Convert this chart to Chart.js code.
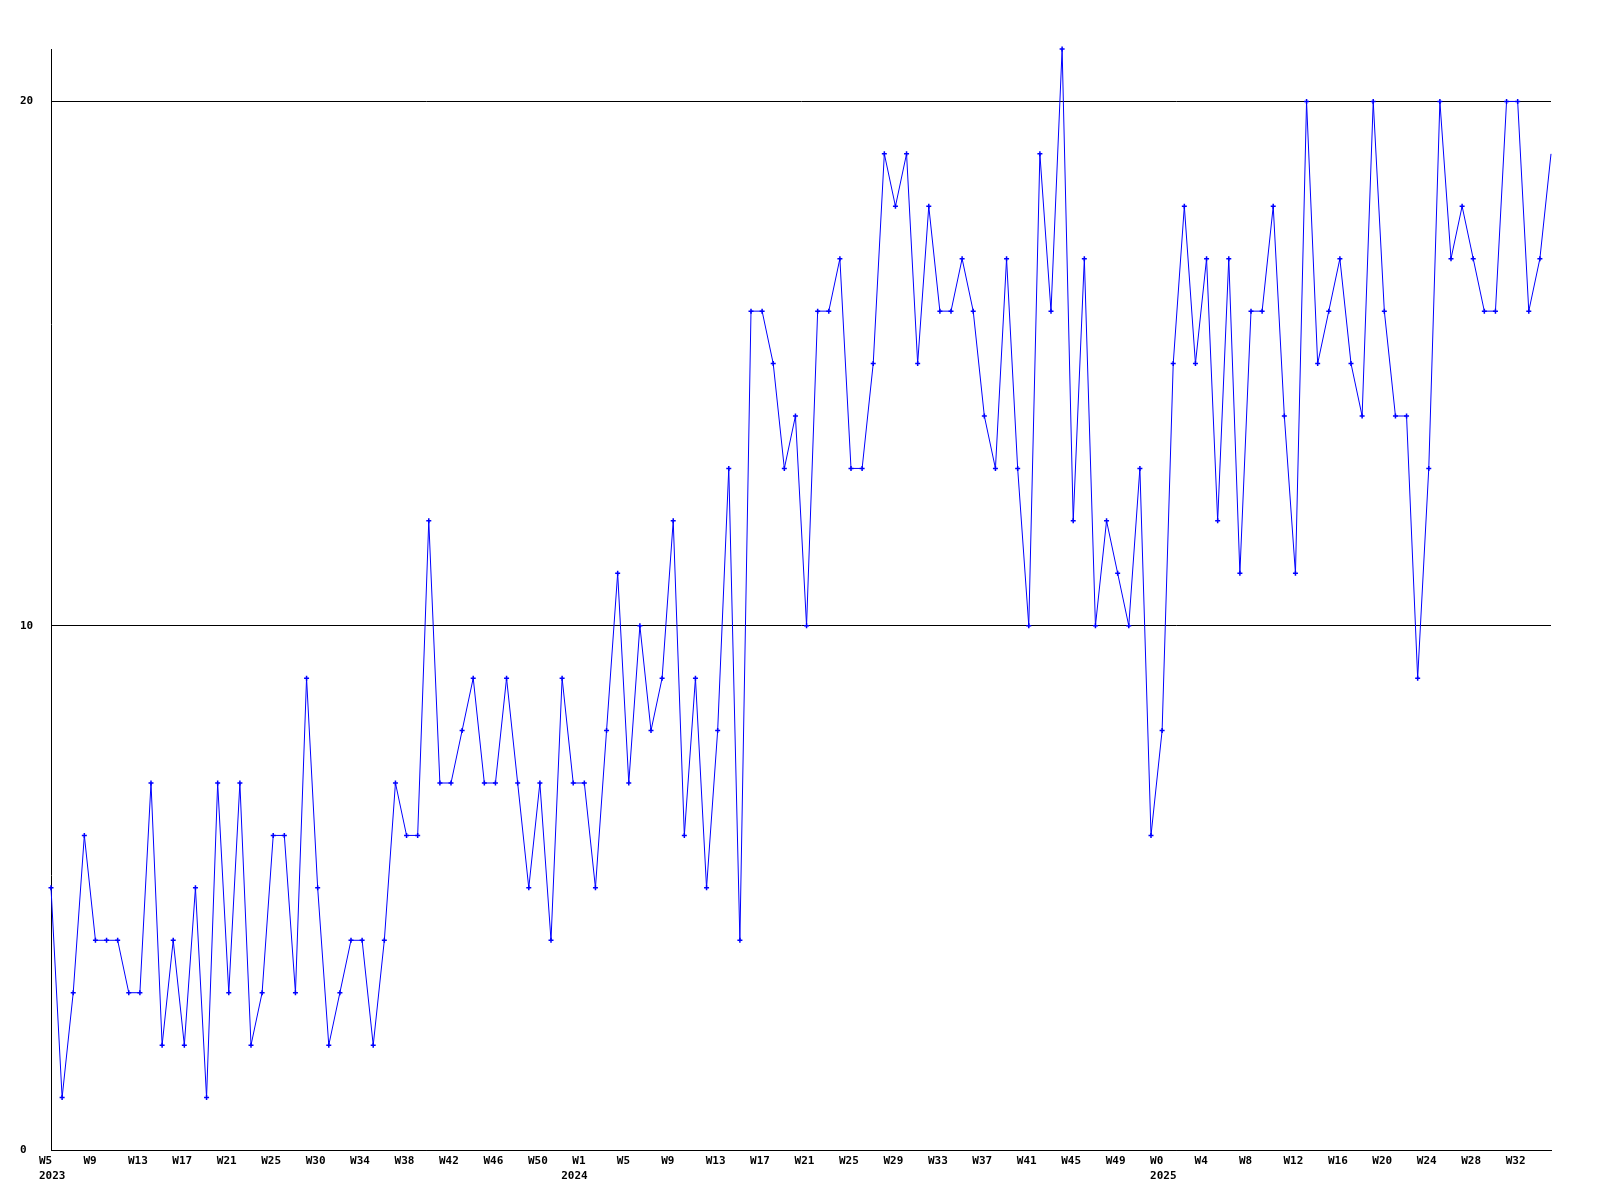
<!DOCTYPE html>
<html>
<head>
<meta charset="utf-8">
<title>Weekly count</title>
<script src="https://cdn.jsdelivr.net/npm/chart.js@4.4.1/dist/chart.umd.min.js"></script>
<style>
  html, body { margin: 0; padding: 0; background: #fff; }
  #wrap { width: 1600px; height: 1200px; }
</style>
</head>
<body>
<div id="wrap"><canvas id="weekChart" width="1600" height="1200"></canvas></div>
<script>
// one value per week, W5 2023 .. W35 2025
const values = [
  5, 1, 3, 6, 4, 4, 4, 3, 3, 7, 2, 4, 2, 5, 1, 7, 3, 7, 2, 3,
  6, 6, 3, 9, 5, 2, 3, 4, 4, 2, 4, 7, 6, 6, 12, 7, 7, 8, 9, 7,
  7, 9, 7, 5, 7, 4, 9, 7, 7, 5, 8, 11, 7, 10, 8, 9, 12, 6, 9, 5,
  8, 13, 4, 16, 16, 15, 13, 14, 10, 16, 16, 17, 13, 13, 15, 19, 18, 19, 15, 18,
  16, 16, 17, 16, 14, 13, 17, 13, 10, 19, 16, 21, 12, 17, 10, 12, 11, 10, 13, 6,
  8, 15, 18, 15, 17, 12, 17, 11, 16, 16, 18, 14, 11, 20, 15, 16, 17, 15, 14, 20,
  16, 14, 14, 9, 13, 20, 17, 18, 17, 16, 16, 20, 20, 16, 17, 19
];

// week labels shown on the axis, one for every 4th point
const tickLabels = [
  "W5", "W9", "W13", "W17", "W21", "W25", "W30", "W34", "W38", "W42", "W46", "W50",
  "W1", "W5", "W9", "W13", "W17", "W21", "W25", "W29", "W33", "W37", "W41", "W45", "W49",
  "W0", "W4", "W8", "W12", "W16", "W20", "W24", "W28", "W32"
];
const yearIndex = [0, 47, 100];
const yearLabels = ["2023", "2024", "2025"];
const yTicks = [0, 10, 20];

const weeks = values.map((v, i) => i);
const axisFont = { family: "'DejaVu Sans Mono', monospace", size: 11, weight: "bold", lineHeight: 1.36 };

new Chart(document.getElementById("weekChart"), {
  type: "line",
  data: {
    labels: weeks,
    datasets: [{
      data: values,
      borderColor: "#0000ff",
      backgroundColor: "#0000ff",
      borderWidth: 1,
      tension: 0,
      fill: false,
      pointStyle: "cross",
      // current week sits on the right edge, no marker there
      pointRadius: (ctx) => (ctx.dataIndex === values.length - 1 ? 0 : 2.5),
      pointBorderWidth: 1.5,
      pointBorderColor: "#0000ff",
      clip: false
    }]
  },
  options: {
    responsive: false,
    animation: false,
    layout: { autoPadding: false, padding: { left: 20, top: 49, right: 49, bottom: 0 } },
    plugins: { legend: { display: false }, tooltip: { enabled: false } },
    scales: {
      x: {
        type: "category",
        offset: false,
        grid: { drawOnChartArea: false, drawTicks: false },
        border: { display: true, color: "#000", width: 1 },
        afterFit: (s) => { s.height = 50; },
        ticks: {
          autoSkip: false,
          maxRotation: 0,
          minRotation: 0,
          align: "start",
          labelOffset: -12,
          padding: 4,
          color: "#000",
          font: axisFont,
          callback: (value, index) => {
            const lines = [index % 4 === 0 ? tickLabels[index / 4] : ""];
            const y = yearIndex.indexOf(index);
            if (y >= 0) lines.push(yearLabels[y]);
            return lines.some((s) => s) ? lines : null;
          }
        }
      },
      y: {
        min: 0,
        max: 21,
        afterBuildTicks: (s) => { s.ticks = yTicks.map((v) => ({ value: v })); },
        afterFit: (s) => { s.width = 31; },
        grid: { color: "#000", lineWidth: 1, drawTicks: false },
        border: { display: true, color: "#000", width: 1 },
        ticks: {
          crossAlign: "far",
          padding: 0,
          color: "#000",
          font: axisFont
        }
      }
    }
  }
});
</script>
</body>
</html>
